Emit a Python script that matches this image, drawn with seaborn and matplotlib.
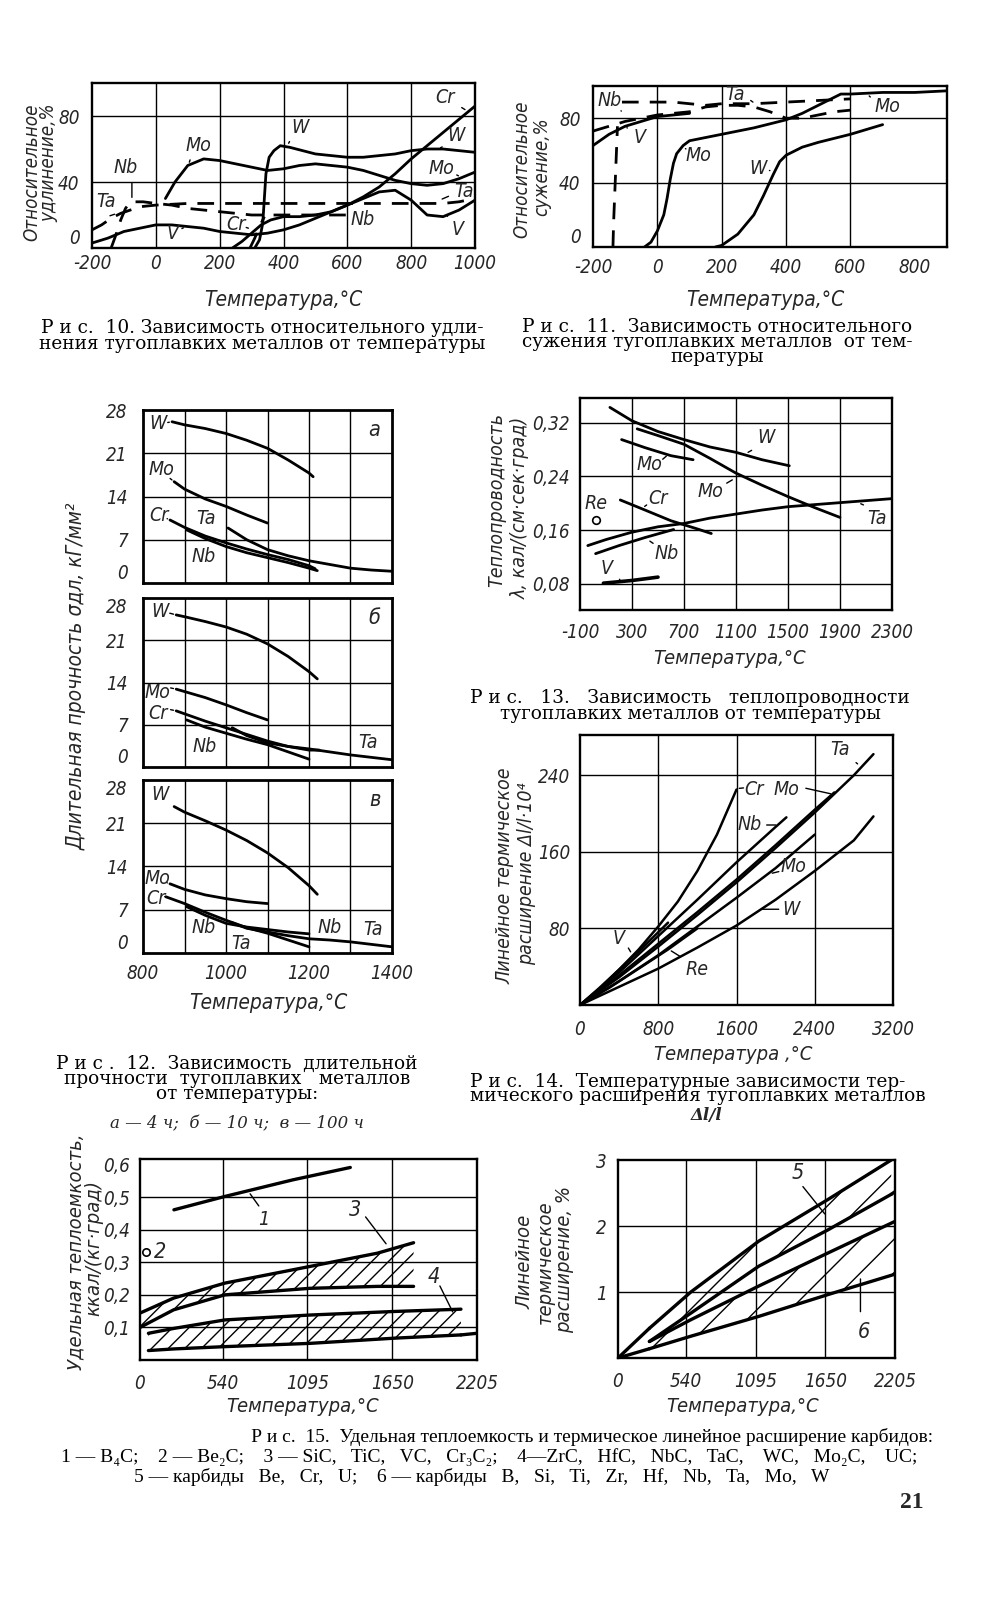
# Refractory metals - book page with figures 10-15

import matplotlib
matplotlib.use("Agg")
import matplotlib.pyplot as plt
import seaborn as sns
from matplotlib import font_manager

# ---------------------------
# Data
# ---------------------------

# Fig 10 - relative elongation, %
CR10_X = [240, 270, 300, 330, 360, 400, 450, 500, 550, 600, 650, 700, 750, 800, 850, 900, 950, 1000]
CR10_Y = [0, 4, 9, 14, 17, 19, 19, 20, 22, 26, 31, 37, 45, 54, 62, 70, 78, 86]
W10_X = [310, 325, 335, 340, 345, 355, 370, 390, 420, 460, 500, 550, 600, 650, 700, 750, 800, 850, 900, 950, 1000]
W10_Y = [0, 5, 15, 30, 45, 55, 59, 62, 61, 59, 57, 56, 55, 55, 56, 57, 59, 60, 60, 59, 58]
MO10_X = [30, 60, 100, 150, 200, 250, 300, 350, 400, 450, 500, 550, 600, 650, 700, 750, 800, 850, 900, 950, 1000]
MO10_Y = [30, 40, 50, 54, 53, 51, 49, 47, 48, 50, 51, 50, 49, 47, 44, 41, 39, 38, 39, 42, 46]
V10_X = [-200, -150, -100, -50, 0, 50, 100, 150, 200, 250, 300, 350, 400, 450, 500, 550, 600, 650, 700, 750, 800, 850, 900, 950, 1000]
V10_Y = [3, 6, 10, 12, 14, 14, 13, 12, 10, 9, 8, 9, 11, 14, 18, 22, 26, 30, 34, 35, 29, 20, 19, 23, 29]
TA10_X = [-200, -170, -140, -110, -80, -50, 0, 100, 200, 300, 400, 500, 600, 700, 800, 850, 900, 950, 1000]
TA10_Y = [11, 14, 18, 21, 23, 25, 26, 27, 27, 27, 27, 27, 27, 27, 27, 27, 27, 28, 30]
NB10_X = [-140, -125, -110, -95, -80, -40, 0, 50, 100, 150, 200, 250, 300, 400, 500, 600]
NB10_Y = [0, 8, 17, 24, 28, 28, 27, 26, 24, 23, 22, 21, 20, 20, 20, 20]
NB10B_X = [295, 310, 325, 340]
NB10B_Y = [0, 6, 13, 19]

# Fig 11 - relative reduction of area, %
V11_X = [-200, -150, -100, -50, 0, 50, 100]
V11_Y = [63, 70, 75, 78, 81, 82, 83]
NB11_X = [-200, -150, -100, -50, 0, 50, 100, 150, 200, 250, 300, 350, 400, 450, 500, 550, 600]
NB11_Y = [72, 75, 78, 80, 82, 83, 84, 87, 88, 88, 87, 84, 80, 80, 82, 84, 85]
NB11B_X = [-138, -136, -133, -130, -127, -124]
NB11B_Y = [0, 15, 30, 45, 60, 75]
TA11_X = [-110, -50, 0, 50, 100, 150, 200, 250, 300, 400, 500, 600]
TA11_Y = [90, 90, 90, 90, 89, 88, 89, 89, 89, 90, 91, 92]
MO11_X = [-40, -20, 0, 20, 30, 40, 50, 60, 80, 100, 150, 200, 300, 400, 450, 500, 550, 570, 600, 700, 800, 900]
MO11_Y = [0, 3, 10, 20, 30, 42, 52, 58, 63, 66, 68, 70, 74, 79, 83, 88, 93, 95, 95, 96, 96, 97]
W11_X = [180, 200, 250, 300, 330, 360, 380, 400, 450, 500, 600, 700]
W11_Y = [0, 1, 8, 20, 32, 45, 53, 57, 62, 65, 70, 76]

# Fig 12 - long-time strength, kG/mm2 (a - 4 h, b - 10 h, c - 100 h)
W12A_X = [870, 900, 950, 1000, 1050, 1100, 1150, 1200, 1210]
W12A_Y = [26.1, 25.6, 25.0, 24.2, 23.1, 21.8, 19.9, 17.8, 17.2]
MO12A_X = [875, 900, 950, 1000, 1050, 1100]
MO12A_Y = [16.4, 15.2, 13.6, 12.4, 11.0, 9.7]
CR12A_X = [865, 900, 950, 1000, 1050, 1100, 1150, 1200, 1215]
CR12A_Y = [10.2, 9.0, 7.6, 6.5, 5.5, 4.6, 3.8, 2.8, 2.3]
NB12A_X = [905, 950, 1000, 1050, 1100, 1150, 1200, 1220]
NB12A_Y = [8.6, 7.2, 5.9, 4.9, 4.1, 3.3, 2.4, 2.0]
TA12A_X = [1005, 1050, 1100, 1150, 1200, 1250, 1300, 1350, 1400]
TA12A_Y = [8.9, 7.0, 5.4, 4.4, 3.6, 3.0, 2.4, 2.1, 1.9]

W12B_X = [880, 900, 950, 1000, 1050, 1100, 1150, 1200, 1220]
W12B_Y = [25.2, 24.9, 24.1, 23.2, 22.0, 20.4, 18.3, 15.8, 14.6]
MO12B_X = [880, 950, 1000, 1050, 1100]
MO12B_Y = [12.9, 11.5, 10.3, 9.0, 7.8]
CR12B_X = [880, 950, 1000, 1050, 1100, 1150, 1200, 1225]
CR12B_Y = [9.3, 7.6, 6.5, 5.4, 4.3, 3.4, 2.8, 2.8]
NB12B_X = [905, 950, 1000, 1050, 1100, 1150, 1200]
NB12B_Y = [7.8, 6.6, 5.6, 4.6, 3.7, 2.5, 1.3]
TA12B_X = [1015, 1050, 1100, 1150, 1200, 1250, 1300, 1350, 1400]
TA12B_Y = [6.5, 5.2, 4.0, 3.4, 3.0, 2.5, 2.0, 1.6, 1.2]

W12C_X = [875, 900, 950, 1000, 1050, 1100, 1150, 1200, 1220]
W12C_Y = [23.7, 22.8, 21.4, 19.9, 18.2, 16.2, 13.8, 10.9, 9.5]
MO12C_X = [865, 900, 950, 1000, 1050, 1100]
MO12C_Y = [11.2, 10.3, 9.4, 8.8, 8.3, 8.0]
CR12C_X = [855, 900, 950, 1000, 1050, 1100, 1150, 1200]
CR12C_Y = [9.1, 8.0, 6.6, 5.3, 4.1, 3.2, 2.1, 1.0]
NB12C_X = [905, 950, 1000, 1050, 1100, 1150, 1200]
NB12C_Y = [7.5, 6.1, 4.8, 4.2, 3.8, 3.4, 3.1]
TA12C_X = [1015, 1050, 1100, 1150, 1200, 1250, 1300, 1350, 1400]
TA12C_Y = [4.9, 4.0, 3.4, 2.8, 2.3, 2.1, 1.8, 1.4, 1.0]

# Fig 13 - thermal conductivity, cal/(cm s deg)
W13_X = [130, 300, 500, 700, 900, 1100, 1300, 1510]
W13_Y = [0.343, 0.323, 0.307, 0.295, 0.284, 0.276, 0.265, 0.256]
MO13_X = [340, 500, 700, 900, 1100, 1300, 1500, 1700, 1900]
MO13_Y = [0.311, 0.301, 0.288, 0.267, 0.245, 0.227, 0.210, 0.194, 0.179]
MO13B_X = [220, 400, 600, 770]
MO13B_Y = [0.295, 0.283, 0.271, 0.265]
CR13_X = [210, 400, 600, 800, 910]
CR13_Y = [0.205, 0.190, 0.174, 0.162, 0.155]
TA13_X = [-40, 100, 300, 500, 700, 900, 1100, 1300, 1500, 1700, 1900, 2100, 2300]
TA13_Y = [0.137, 0.146, 0.157, 0.165, 0.170, 0.178, 0.184, 0.190, 0.195, 0.198, 0.201, 0.204, 0.207]
NB13_X = [20, 200, 400, 620]
NB13_Y = [0.125, 0.137, 0.149, 0.161]
V13_X = [80, 300, 500]
V13_Y = [0.081, 0.085, 0.090]
RE13_X = [25]
RE13_Y = [0.175]

# Fig 14 - thermal expansion dl/l * 10^4
CR14_X = [0, 200, 400, 600, 800, 1000, 1200, 1400, 1600]
CR14_Y = [0, 17, 37, 58, 82, 108, 140, 178, 225]
NB14_X = [0, 400, 800, 1200, 1600, 2000, 2110]
NB14_Y = [0, 34, 72, 110, 149, 186, 196]
TA14_X = [0, 400, 800, 1200, 1600, 2000, 2400, 2800, 3000]
TA14_Y = [0, 29, 61, 94, 128, 164, 201, 240, 262]
MO14_X = [0, 400, 800, 1200, 1600, 2000, 2400, 2600]
MO14_Y = [0, 31, 64, 97, 131, 167, 204, 222]
MO14B_X = [0, 400, 800, 1200, 1600, 2000, 2400]
MO14B_Y = [0, 25, 52, 82, 112, 143, 178]
W14_X = [0, 400, 800, 1200, 1600, 2000, 2400, 2800, 3000]
W14_Y = [0, 19, 38, 60, 83, 110, 140, 172, 197]
V14_X = [0, 200, 400, 600, 800, 900]
V14_Y = [0, 18, 37, 56, 76, 86]
RE14_X = [0, 300, 600, 900, 1200]
RE14_Y = [0, 18, 38, 58, 80]

# Fig 15 - carbides: specific heat, kcal/(kg deg)
B4C_X = [222, 555, 1000, 1376]
B4C_Y = [0.461, 0.502, 0.553, 0.591]
BE2C_X = [40]
BE2C_Y = [0.333]
SIC_X = [0, 220, 555, 1110, 1554, 1790]
SIC_HI = [0.144, 0.190, 0.236, 0.287, 0.328, 0.360]
SIC_LO = [0.100, 0.154, 0.200, 0.220, 0.226, 0.226]
ZRC_X = [55, 222, 555, 1110, 1665, 2100]
ZRC_HI = [0.082, 0.097, 0.123, 0.138, 0.149, 0.156]
ZRC_LO = [0.029, 0.034, 0.041, 0.051, 0.067, 0.077]
ZRC_LO_END_X = [2100, 2205]
ZRC_LO_END_Y = [0.077, 0.082]

# Fig 15 - carbides: linear thermal expansion, %
BAND_X = [250, 580, 1120, 1670, 2175]
G5_HI = [0.45, 1.00, 1.77, 2.40, 3.00]
G5_LO = [0.25, 0.68, 1.39, 1.94, 2.48]
G5_HI_START_X = [0, 250]
G5_HI_START_Y = [0, 0.45]
G5_LO_END_X = [2175, 2205]
G5_LO_END_Y = [2.48, 2.52]
G6_X = [250, 580, 1120, 1670, 2205]
G6_HI = [0.25, 0.58, 1.09, 1.59, 2.07]
G6_LO = [0.14, 0.33, 0.63, 0.96, 1.27]
G6_LO_START_X = [0, 250]
G6_LO_START_Y = [0, 0.14]

# ---------------------------
# Style
# ---------------------------

sns.set_style("white")


def weight_num(w):
    if isinstance(w, (int, float)):
        return w
    return {"ultralight": 200, "light": 300, "normal": 400, "regular": 400, "book": 400,
            "medium": 500}.get(str(w).lower(), 700)


# thin, narrow italic for the draughtsman's lettering if one is installed
narrow = None
for f in font_manager.fontManager.ttflist:
    if ("Condensed" in f.name or "Narrow" in f.name or f.stretch in ("condensed", "semi-condensed")) \
            and "Mono" not in f.name and f.style in ("italic", "oblique") and weight_num(f.weight) <= 400:
        narrow = f
        break
if narrow is not None:
    HAND = dict(family=[narrow.name, "DejaVu Sans"], style=narrow.style,
                weight=weight_num(narrow.weight), stretch=narrow.stretch)
    TICK, LAB, BIG = 13.5, 14, 14.5
else:
    HAND = dict(family=["DejaVu Sans"], style="italic")
    TICK, LAB, BIG = 11, 11.5, 12
plt.rcParams["font.family"] = ["DejaVu Sans"]

CAP = dict(family=["DejaVu Serif"], fontsize=13.3, color="k")

W, H = 991, 1600
fig = plt.figure(figsize=(W / 100, H / 100), dpi=100)


def px_ax(l, t, r, b):
    return fig.add_axes([l / W, 1 - b / H, (r - l) / W, (b - t) / H])


def ftext(x, y, s, **kw):
    fig.text(x / W, 1 - y / H, s, **kw)


def curve(ax, xs, ys, dashed=False, lw=2.0):
    sns.lineplot(x=xs, y=ys, ax=ax, color="k", lw=lw, estimator=None, sort=False,
                 linestyle=(0, (6, 4)) if dashed else "-", legend=False)


def frame(ax, xlim, ylim, xt, xl, yt, yl, xgrid, ygrid, xpad, ypad, lw=1.7):
    ax.set_xlim(*xlim)
    ax.set_ylim(*ylim)
    ax.set_xticks(xt)
    ax.set_xticklabels(xl, fontsize=TICK, **HAND)
    ax.set_yticks(yt)
    ax.set_yticklabels(yl, fontsize=TICK, **HAND)
    ax.set_xticks(xgrid, minor=True)
    ax.set_yticks(ygrid, minor=True)
    ax.xaxis.remove_overlapping_locs = False
    ax.yaxis.remove_overlapping_locs = False
    ax.grid(False, which="major")
    ax.grid(True, which="minor", color="k", lw=1.0)
    ax.tick_params(which="both", length=0)
    ax.tick_params(axis="x", pad=xpad)
    ax.tick_params(axis="y", pad=ypad)
    for sp in ax.spines.values():
        sp.set_visible(True)
        sp.set_color("k")
        sp.set_linewidth(lw)
    ax.set_xlabel("")
    ax.set_ylabel("")


def lab(ax, x, y, s, lead=None, size=None):
    ax.text(x, y, s, fontsize=size or LAB, ha="center", va="center", **HAND)
    if lead is not None:
        ax.annotate("", xy=lead[1], xytext=lead[0], annotation_clip=False,
                    arrowprops=dict(arrowstyle="-", lw=1.0, color="k"))


def vtext(x, y, s, size=None):
    ftext(x, y, s, rotation=90, ha="center", va="center", fontsize=size or BIG, **HAND)


def caption(x, y, s, ha="center", ls=0.8, **kw):
    opts = dict(CAP)
    opts.update(kw)
    ftext(x, y, s, ha=ha, va="center", ma="center" if ha == "center" else "left",
          linespacing=ls, **opts)


# ---------------------------
# Fig 10
# ---------------------------
ax = px_ax(92, 83, 475, 248)
curve(ax, CR10_X, CR10_Y)
curve(ax, W10_X, W10_Y)
curve(ax, MO10_X, MO10_Y)
curve(ax, V10_X, V10_Y)
curve(ax, TA10_X, TA10_Y, dashed=True)
curve(ax, NB10_X, NB10_Y, dashed=True)
curve(ax, NB10B_X, NB10B_Y, dashed=True)
frame(ax, (-200, 1000), (0, 100),
      [-200, 0, 200, 400, 600, 800, 1000], ["-200", "0", "200", "400", "600", "800", "1000"],
      [0, 40, 80], ["0", "40", "80"],
      [0, 200, 400, 600, 800], [40, 80], 4, 9)
ax.get_yticklabels()[0].set_va("bottom")
lab(ax, 905, 91, "Cr", ((951, 86), (976, 83)))
lab(ax, 453, 73, "W", ((423, 66), (412, 62)))
lab(ax, 940, 68, "W", ((905, 62), (884, 60)))
lab(ax, 135, 62, "Mo", ((110, 55), (105, 52)))
lab(ax, 895, 48, "Mo", ((935, 45), (956, 43)))
lab(ax, -95, 49, "Nb", ((-75, 41), (-75, 29)))
lab(ax, -157, 28, "Ta", ((-152, 19), (-121, 21)))
lab(ax, 966, 34, "Ta", ((925, 32), (889, 29)))
lab(ax, 53, 9, "V", ((74, 11), (94, 13)))
lab(ax, 250, 14, "Cr", ((275, 13), (290, 12)))
lab(ax, 648, 17, "Nb")
lab(ax, 946, 11, "V", ((920, 18), (905, 21)))
vtext(32, 172, "Относительное", 13.5)
vtext(49, 163, "удлинение,%", 13.5)
ftext(283, 300, "Температура,°C", ha="center", va="center", fontsize=15, **HAND)
caption(262, 336, "Р и с.  10. Зависимость относительного удли-\n"
                  "нения тугоплавких металлов от температуры", ls=0.9)

# ---------------------------
# Fig 11
# ---------------------------
ax = px_ax(593, 86, 947, 247)
curve(ax, V11_X, V11_Y)
curve(ax, NB11_X, NB11_Y, dashed=True)
curve(ax, NB11B_X, NB11B_Y, dashed=True)
curve(ax, TA11_X, TA11_Y, dashed=True)
curve(ax, MO11_X, MO11_Y)
curve(ax, W11_X, W11_Y)
frame(ax, (-200, 900), (0, 100),
      [-200, 0, 200, 400, 600, 800], ["-200", "0", "200", "400", "600", "800"],
      [0, 40, 80], ["0", "40", "80"],
      [0, 200, 400, 600], [40, 80], 8, 9)
ax.get_yticklabels()[0].set_va("bottom")
lab(ax, -149, 91, "Nb", ((-118, 86), (-107, 83)))
lab(ax, -55, 68, "V", ((-86, 73), (-102, 75)))
lab(ax, 241, 95, "Ta", ((283, 92), (304, 89)))
lab(ax, 714, 87, "Mo", ((668, 92), (652, 95)))
lab(ax, 127, 57, "Mo", ((96, 60), (80, 62)))
lab(ax, 314, 49, "W", ((340, 47), (358, 48)))
vtext(522, 169, "Относительное", 13.5)
vtext(542, 167, "сужение,%", 13.5)
ftext(765, 300, "Температура,°C", ha="center", va="center", fontsize=15, **HAND)
caption(717, 342, "Р и с.  11.  Зависимость относительного\n"
                  "сужения тугоплавких металлов  от тем-\n"
                  "пературы", ls=0.76)

# ---------------------------
# Fig 12
# ---------------------------
panels = [
    ((143, 410, 392, 583), "а",
     [(W12A_X, W12A_Y), (MO12A_X, MO12A_Y), (CR12A_X, CR12A_Y), (NB12A_X, NB12A_Y), (TA12A_X, TA12A_Y)],
     [(836, 25.8, "W", ((853, 25.9), (870, 26.1))), (844, 18.3, "Mo", ((860, 17.2), (875, 16.4))),
      (838, 11.0, "Cr", ((852, 10.6), (865, 10.2))), (953, 10.5, "Ta", None), (945, 4.3, "Nb", None)]),
    ((143, 598, 392, 767), "б",
     [(W12B_X, W12B_Y), (MO12B_X, MO12B_Y), (CR12B_X, CR12B_Y), (NB12B_X, NB12B_Y), (TA12B_X, TA12B_Y)],
     [(841, 25.8, "W", ((858, 25.6), (880, 25.2))), (836, 12.4, "Mo", ((860, 13.2), (880, 12.9))),
      (836, 8.8, "Cr", ((860, 9.6), (880, 9.3))), (949, 3.4, "Nb", None), (1342, 4.0, "Ta", None)]),
    ((143, 780, 392, 953), "в",
     [(W12C_X, W12C_Y), (MO12C_X, MO12C_Y), (CR12C_X, CR12C_Y), (NB12C_X, NB12C_Y), (TA12C_X, TA12C_Y)],
     [(840, 25.6, "W", None), (836, 12.1, "Mo", ((852, 11.5), (865, 11.2))),
      (832, 8.8, "Cr", ((846, 9.2), (855, 9.1))), (945, 4.2, "Nb", None), (1037, 1.5, "Ta", None),
      (1250, 4.2, "Nb", None), (1354, 3.8, "Ta", None)]),
]
for i, (box, letter, series, labels) in enumerate(panels):
    ax = px_ax(*box)
    for xs, ys in series:
        curve(ax, xs, ys)
    last = i == len(panels) - 1
    frame(ax, (800, 1400), (0, 28),
          [800, 1000, 1200, 1400], ["800", "1000", "1200", "1400"] if last else ["", "", "", ""],
          [0, 7, 14, 21, 28], ["0", "7", "14", "21", "28"],
          [900, 1000, 1100, 1200, 1300], [7, 14, 21], 8, 11, lw=2.0)
    ylabs = ax.get_yticklabels()
    ylabs[0].set_va("bottom")
    if i > 0:
        ylabs[-1].set_va("top")
    ax.text(1358, 24.7, letter, fontsize=15.5, ha="center", va="center", **HAND)
    for x, y, s, lead in labels:
        lab(ax, x, y, s, lead)
vtext(77, 676, "Длительная прочность σдл, кГ/мм²", 15)
ftext(268, 1003, "Температура,°C", ha="center", va="center", fontsize=15, **HAND)
caption(237, 1079, "Р и с .  12.  Зависимость  длительной\n"
                   "прочности  тугоплавких   металлов\n"
                   "от температуры:", ls=0.79)
ftext(237, 1124, "а — 4 ч;  б — 10 ч;  в — 100 ч", ha="center", va="center",
      family=["DejaVu Serif"], style="italic", fontsize=12)

# ---------------------------
# Fig 13
# ---------------------------
ax = px_ax(580, 398, 892, 610)
curve(ax, W13_X, W13_Y)
curve(ax, MO13_X, MO13_Y)
curve(ax, MO13B_X, MO13B_Y)
curve(ax, CR13_X, CR13_Y)
curve(ax, TA13_X, TA13_Y)
curve(ax, NB13_X, NB13_Y)
curve(ax, V13_X, V13_Y, lw=2.6)
sns.scatterplot(x=RE13_X, y=RE13_Y, ax=ax, marker="o", s=30, facecolor="white",
                edgecolor="k", linewidth=1.2, legend=False)
frame(ax, (-100, 2300), (0.041, 0.357),
      [-100, 300, 700, 1100, 1500, 1900, 2300], ["-100", "300", "700", "1100", "1500", "1900", "2300"],
      [0.08, 0.16, 0.24, 0.32], ["0,08", "0,16", "0,24", "0,32"],
      [300, 700, 1100, 1500, 1900], [0.08, 0.16, 0.24, 0.32], 9, 7)
lab(ax, 1330, 0.2975, "W", ((1239, 0.281), (1174, 0.274)))
lab(ax, 433, 0.2575, "Mo", ((520, 0.263), (580, 0.273)))
lab(ax, 901, 0.2175, "Mo", ((1010, 0.228), (1090, 0.237)))
lab(ax, 498, 0.2075, "Cr", ((430, 0.200), (380, 0.193)))
lab(ax, 25, 0.200, "Re")
lab(ax, 563, 0.125, "Nb", ((480, 0.138), (420, 0.146)))
lab(ax, 108, 0.1025, "V", ((190, 0.090), (220, 0.083)))
lab(ax, 2188, 0.1775, "Ta", ((2100, 0.196), (2040, 0.201)))
vtext(497, 500, "Теплопроводность", 14)
vtext(520, 508, "λ, кал/(см·сек·град)", 14)
ftext(730, 658, "Температура,°C", ha="center", va="center", fontsize=BIG, **HAND)
caption(690, 706, "Р и с.   13.   Зависимость   теплопроводности\n"
                  "тугоплавких металлов от температуры", ls=0.83)

# ---------------------------
# Fig 14
# ---------------------------
ax = px_ax(580, 735, 893, 1005)
for xs, ys in [(CR14_X, CR14_Y), (NB14_X, NB14_Y), (TA14_X, TA14_Y), (MO14_X, MO14_Y),
               (MO14B_X, MO14B_Y), (W14_X, W14_Y), (V14_X, V14_Y), (RE14_X, RE14_Y)]:
    curve(ax, xs, ys, lw=1.8)
frame(ax, (0, 3200), (0, 282),
      [0, 800, 1600, 2400, 3200], ["0", "800", "1600", "2400", "3200"],
      [80, 160, 240], ["80", "160", "240"],
      [800, 1600, 2400], [80, 160, 240], 11, 7)
lab(ax, 2658, 267, "Ta", ((2800, 255), (2860, 250)))
lab(ax, 1784, 225, "Cr", ((1700, 227), (1600, 226)))
lab(ax, 2109, 225, "Mo", ((2281, 227), (2590, 220)))
lab(ax, 1732, 189, "Nb", ((1880, 188), (2030, 188)))
lab(ax, 2178, 145, "Mo", ((2060, 140), (1938, 137)))
lab(ax, 2161, 100, "W", ((2060, 100), (1835, 100)))
lab(ax, 394, 69, "V", ((480, 62), (532, 53)))
lab(ax, 1200, 37, "Re", ((1050, 49), (909, 58)))
vtext(505, 876, "Линейное термическое", 14)
vtext(527, 874, "расширение Δl/l·10⁴", 14)
ftext(733, 1055, "Температура ,°C", ha="center", va="center", fontsize=BIG, **HAND)
caption(470, 1089, "Р и с.  14.  Температурные зависимости тер-\n"
                   "мического расширения тугоплавких металлов", ha="left", ls=0.76)
ftext(707, 1115, "Δl/l", ha="center", va="center", family=["DejaVu Serif"], style="italic",
      weight="bold", fontsize=12)

# ---------------------------
# Fig 15 (left) - specific heat
# ---------------------------
ax = px_ax(140, 1159, 477, 1360)
ax.fill_between(SIC_X, SIC_LO, SIC_HI, facecolor="none", edgecolor="k", hatch="//", lw=0)
ax.fill_between(ZRC_X, ZRC_LO, ZRC_HI, facecolor="none", edgecolor="k", hatch="//", lw=0)
curve(ax, B4C_X, B4C_Y, lw=2.4)
curve(ax, SIC_X, SIC_HI, lw=2.4)
curve(ax, SIC_X, SIC_LO, lw=2.4)
curve(ax, ZRC_X, ZRC_HI, lw=2.4)
curve(ax, ZRC_X, ZRC_LO, lw=2.4)
curve(ax, ZRC_LO_END_X, ZRC_LO_END_Y, lw=2.4)
sns.scatterplot(x=BE2C_X, y=BE2C_Y, ax=ax, marker="o", s=28, facecolor="white",
                edgecolor="k", linewidth=1.2, legend=False)
frame(ax, (0, 2205), (0, 0.617),
      [0, 540, 1095, 1650, 2205], ["0", "540", "1095", "1650", "2205"],
      [0.1, 0.2, 0.3, 0.4, 0.5, 0.6], ["0,1", "0,2", "0,3", "0,4", "0,5", "0,6"],
      [540, 1095, 1650], [0.1, 0.2, 0.3, 0.4, 0.5], 10, 7)
lab(ax, 810, 0.43, "1", ((788, 0.466), (710, 0.517)))
lab(ax, 133, 0.333, "2", size=15.5)
lab(ax, 1410, 0.461, "3", ((1465, 0.446), (1621, 0.350)), size=15.5)
lab(ax, 1920, 0.256, "4", ((1954, 0.235), (2054, 0.140)), size=15.5)
vtext(76, 1252, "Удельная теплоемкость,", 14.5)
vtext(94, 1248, "ккал/(кг·град)", 14.5)
ftext(303, 1407, "Температура,°C", ha="center", va="center", fontsize=BIG, **HAND)

# ---------------------------
# Fig 15 (right) - linear expansion
# ---------------------------
ax = px_ax(618, 1160, 895, 1358)
ax.fill_between(BAND_X, G5_LO, G5_HI, facecolor="none", edgecolor="k", hatch="/", lw=0)
ax.fill_between(G6_X, G6_LO, G6_HI, facecolor="none", edgecolor="k", hatch="/", lw=0)
curve(ax, BAND_X, G5_HI, lw=2.4)
curve(ax, G5_HI_START_X, G5_HI_START_Y, lw=2.4)
curve(ax, BAND_X, G5_LO, lw=2.4)
curve(ax, G5_LO_END_X, G5_LO_END_Y, lw=2.4)
curve(ax, G6_X, G6_HI, lw=2.4)
curve(ax, G6_X, G6_LO, lw=2.4)
curve(ax, G6_LO_START_X, G6_LO_START_Y, lw=2.4)
frame(ax, (0, 2205), (0, 3),
      [0, 540, 1095, 1650, 2205], ["0", "540", "1095", "1650", "2205"],
      [1, 2, 3], ["1", "2", "3"],
      [540, 1095, 1650], [1, 2], 10, 8)
lab(ax, 1431, 2.80, "5", ((1458, 2.63), (1660, 2.15)), size=15.5)
lab(ax, 1958, 0.40, "6", ((1930, 0.66), (1930, 1.24)), size=15.5)
vtext(525, 1262, "Линейное", 14.5)
vtext(545, 1262, "термическое", 14.5)
vtext(565, 1259, "расширение, %", 14.5)
ftext(743, 1407, "Температура,°C", ha="center", va="center", fontsize=BIG, **HAND)

# caption of fig 15 and page number
caption(61, 1457,
        " " * 39 + "Р и с.  15.  Удельная теплоемкость и термическое линейное расширение карбидов:\n"
        "1 — B₄C;    2 — Be₂C;    3 — SiC,   TiC,   VC,   Cr₃C₂;    4—ZrC,   HfC,   NbC,   TaC,    WC,   Mo₂C,    UC;\n"
        + " " * 15 + "5 — карбиды   Be,   Cr,   U;    6 — карбиды   B,   Si,   Ti,   Zr,   Hf,   Nb,   Ta,   Mo,   W",
        ha="left", ls=1.12, family=["Liberation Serif", "DejaVu Serif"], fontsize=14)
ftext(912, 1503, "21", ha="center", va="center", family=["Liberation Serif", "DejaVu Serif"],
      weight="bold", fontsize=17)

fig.savefig("out.png", dpi=100, facecolor="white")
plt.close(fig)
